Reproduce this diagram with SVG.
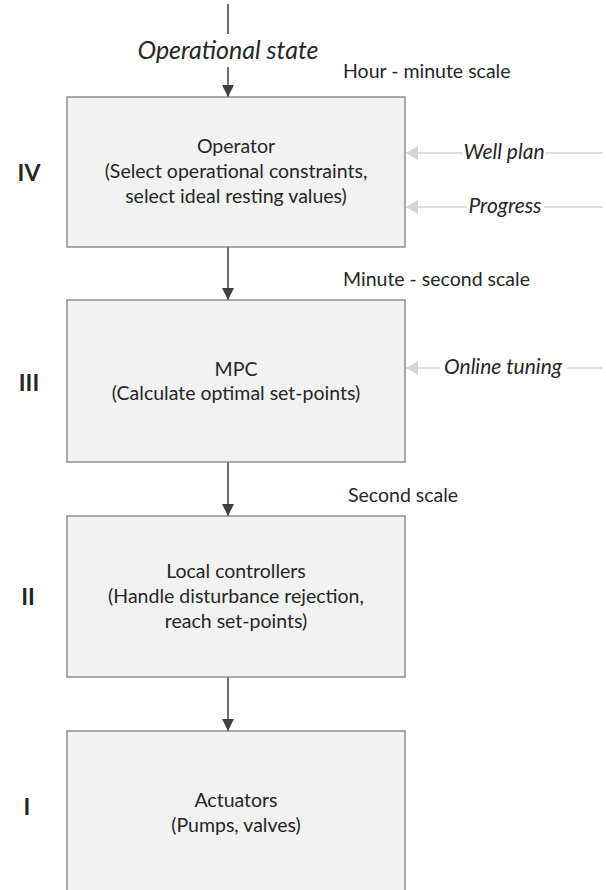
<svg xmlns="http://www.w3.org/2000/svg" width="606" height="890" viewBox="0 0 606 890">
<defs>
<style>
.box{fill:#f2f2f2;stroke:#7f7f7f;stroke-width:1.3}
.t{font-family:Lato,"Liberation Sans",sans-serif;font-size:19.5px;fill:#262626;text-anchor:middle}
.s{font-family:Lato,"Liberation Sans",sans-serif;font-size:19.5px;fill:#262626}
.i{font-family:Lato,"Liberation Sans",sans-serif;font-style:italic;font-size:21px;fill:#262626;text-anchor:middle}
.r{font-family:Lato,"Liberation Sans",sans-serif;font-weight:bold;font-size:23px;fill:#262626;text-anchor:middle}
.c{fill:none;stroke:#404040;stroke-width:1.5}
.l{fill:none;stroke:#d4d4d4;stroke-width:1.5}
</style>
<marker id="ah" viewBox="0 0 12 12" refX="12" refY="6" markerWidth="12" markerHeight="12" markerUnits="userSpaceOnUse" orient="auto">
<path d="M0,0 L12,6 L0,12 z" fill="#404040"/>
</marker>
<marker id="ahl" viewBox="0 0 12 14" refX="12" refY="7" markerWidth="12" markerHeight="14" markerUnits="userSpaceOnUse" orient="auto">
<path d="M0,0 L12,7 L0,14 z" fill="#d4d4d4"/>
</marker>
</defs>
<rect width="606" height="890" fill="#ffffff"/>
<g id="connectors">
<path class="c" d="M228,4 V34"/>
<path class="c" d="M228,67 V97" marker-end="url(#ah)"/>
<path class="c" d="M228,247 V300" marker-end="url(#ah)"/>
<path class="c" d="M228,462 V516" marker-end="url(#ah)"/>
<path class="c" d="M228,677 V731" marker-end="url(#ah)"/>
<path class="l" d="M603,153 H546 M462,153 H406" marker-end="url(#ahl)"/>
<path class="l" d="M603,207 H544 M467,207 H406" marker-end="url(#ahl)"/>
<path class="l" d="M603,368 H567 M440,368 H406" marker-end="url(#ahl)"/>
</g>
<g id="labels">
<text class="i" x="228" y="59" style="font-size:25px">Operational state</text>
<text class="s" x="343" y="78">Hour - minute scale</text>
<text class="s" x="343" y="286">Minute - second scale</text>
<text class="s" x="348" y="502">Second scale</text>
<text class="i" x="504" y="159">Well plan</text>
<text class="i" x="505" y="213">Progress</text>
<text class="i" x="503" y="374">Online tuning</text>
</g>
<g id="operator">
<rect class="box" x="67" y="97" width="338" height="150"/>
<text class="t" x="236" y="153">Operator</text>
<text class="t" x="236" y="178">(Select operational constraints,</text>
<text class="t" x="236" y="203">select ideal resting values)</text>
<text class="r" x="29" y="181">IV</text>
</g>
<g id="mpc">
<rect class="box" x="67" y="300" width="338" height="162"/>
<text class="t" x="236" y="376">MPC</text>
<text class="t" x="236" y="400">(Calculate optimal set-points)</text>
<text class="r" x="29" y="391">III</text>
</g>
<g id="local-controllers">
<rect class="box" x="67" y="516" width="338" height="161"/>
<text class="t" x="236" y="578">Local controllers</text>
<text class="t" x="236" y="603">(Handle disturbance rejection,</text>
<text class="t" x="236" y="628">reach set-points)</text>
<text class="r" x="28" y="605">II</text>
</g>
<g id="actuators">
<rect class="box" x="67" y="731" width="338" height="170"/>
<text class="t" x="236" y="807">Actuators</text>
<text class="t" x="236" y="832">(Pumps, valves)</text>
<text class="r" x="27" y="815">I</text>
</g>
</svg>
